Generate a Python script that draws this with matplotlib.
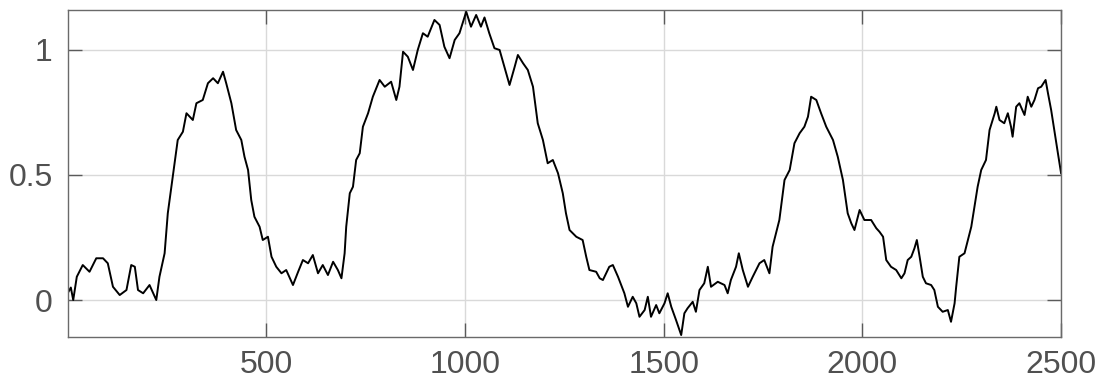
import matplotlib
matplotlib.use("Agg")
import matplotlib.pyplot as plt

# values
sample_idx = [
    1, 8, 14, 23, 38, 55, 72, 89, 101, 114, 131, 148, 160, 169, 177, 190, 206, 223, 231, 244,
    252, 265, 277, 290, 299, 315, 324, 340, 353, 366, 378, 391, 399, 412, 424, 437, 445, 454, 462, 470,
    483, 491, 504, 513, 525, 538, 550, 567, 580, 592, 605, 617, 630, 642, 655, 668, 680, 689, 697, 701,
    710, 718, 726, 735, 743, 756, 768, 785, 798, 814, 827, 835, 844, 856, 869, 881, 894, 906, 923, 936,
    948, 961, 974, 986, 1003, 1015, 1028, 1040, 1049, 1061, 1074, 1087, 1099, 1112, 1125, 1133, 1146, 1158, 1171, 1183,
    1196, 1208, 1221, 1234, 1246, 1254, 1263, 1280, 1296, 1305, 1313, 1330, 1339, 1347, 1355, 1363, 1372, 1385, 1401, 1410,
    1422, 1431, 1439, 1452, 1460, 1468, 1481, 1489, 1502, 1510, 1519, 1531, 1544, 1552, 1560, 1573, 1581, 1590, 1602, 1611,
    1619, 1636, 1653, 1661, 1669, 1682, 1689, 1699, 1712, 1724, 1741, 1753, 1766, 1774, 1791, 1804, 1817, 1829, 1842, 1854,
    1863, 1871, 1884, 1896, 1909, 1926, 1938, 1951, 1963, 1972, 1980, 1993, 2005, 2022, 2035, 2043, 2052, 2060, 2072, 2085,
    2098, 2106, 2114, 2123, 2131, 2137, 2144, 2152, 2160, 2173, 2181, 2190, 2202, 2215, 2223, 2232, 2236, 2244, 2257, 2274,
    2282, 2290, 2299, 2311, 2320, 2333, 2337, 2345, 2357, 2366, 2374, 2378, 2387, 2395, 2408, 2416, 2425, 2433, 2442, 2450,
    2461, 2467, 2475, 2484, 2492, 2500,
]
signal = [
    0.03, 0.05, 0.0, 0.093, 0.14, 0.113, 0.167, 0.167, 0.147, 0.053, 0.02, 0.04, 0.14, 0.133, 0.04, 0.027, 0.06, 0.0, 0.093, 0.187,
    0.347, 0.5, 0.64, 0.673, 0.747, 0.72, 0.787, 0.8, 0.867, 0.887, 0.867, 0.913, 0.867, 0.787, 0.68, 0.64, 0.573, 0.52, 0.4, 0.333,
    0.293, 0.24, 0.253, 0.173, 0.133, 0.107, 0.12, 0.06, 0.113, 0.16, 0.147, 0.18, 0.107, 0.14, 0.1, 0.153, 0.12, 0.087, 0.187, 0.293,
    0.427, 0.453, 0.56, 0.587, 0.693, 0.747, 0.813, 0.88, 0.853, 0.873, 0.8, 0.853, 0.993, 0.973, 0.92, 1.0, 1.067, 1.053, 1.12, 1.1,
    1.013, 0.967, 1.04, 1.067, 1.153, 1.093, 1.14, 1.093, 1.13, 1.067, 1.007, 1.0, 0.933, 0.86, 0.933, 0.98, 0.947, 0.92, 0.853, 0.707,
    0.64, 0.547, 0.56, 0.507, 0.427, 0.347, 0.28, 0.253, 0.24, 0.173, 0.12, 0.113, 0.087, 0.08, 0.107, 0.133, 0.14, 0.093, 0.027, -0.027,
    0.013, -0.013, -0.067, -0.04, 0.013, -0.067, -0.02, -0.053, -0.013, 0.027, -0.027, -0.08, -0.14, -0.053, -0.033, -0.007, -0.047, 0.04, 0.067, 0.133,
    0.053, 0.073, 0.06, 0.027, 0.08, 0.133, 0.187, 0.12, 0.053, 0.093, 0.147, 0.16, 0.107, 0.213, 0.32, 0.48, 0.52, 0.627, 0.667, 0.693,
    0.733, 0.813, 0.8, 0.747, 0.693, 0.64, 0.573, 0.48, 0.347, 0.307, 0.28, 0.36, 0.32, 0.32, 0.287, 0.273, 0.253, 0.16, 0.133, 0.12,
    0.087, 0.107, 0.16, 0.173, 0.207, 0.24, 0.173, 0.093, 0.067, 0.06, 0.04, -0.027, -0.047, -0.04, -0.087, -0.013, 0.053, 0.173, 0.187, 0.293,
    0.373, 0.453, 0.52, 0.56, 0.68, 0.747, 0.773, 0.72, 0.707, 0.747, 0.693, 0.653, 0.773, 0.787, 0.74, 0.813, 0.773, 0.8, 0.847, 0.853,
    0.88, 0.827, 0.76, 0.667, 0.587, 0.507,
]
x_ticks = [500, 1000, 1500, 2000, 2500]
y_ticks = [0, 0.5, 1]
y_tick_labels = ['0', '0.5', '1']

plt.rcParams['font.family'] = ['Liberation Sans', 'DejaVu Sans']

fig = plt.figure(figsize=(11.03, 3.83), dpi=100)
ax = fig.add_axes([0.0617, 0.120, 0.9003, 0.854])

ax.plot(sample_idx, signal, color='black', linewidth=1.4)

ax.set_xlim(1, 2500)
ax.set_ylim(-0.148, 1.16)
ax.set_xticks(x_ticks)
ax.set_yticks(y_ticks)
ax.set_yticklabels(y_tick_labels)

ax.grid(True, color='#d9d9d9', linewidth=1.0)
ax.set_axisbelow(True)
ax.tick_params(direction='in', length=10, width=1, color='#5a5a5a',
               labelsize=23, labelcolor='#505050',
               top=True, right=True)
ax.tick_params(axis='x', pad=9)
ax.tick_params(axis='y', pad=11)
for spine in ax.spines.values():
    spine.set_color('#6a6a6a')
    spine.set_linewidth(1.0)

fig.savefig('out.png', dpi=100)
